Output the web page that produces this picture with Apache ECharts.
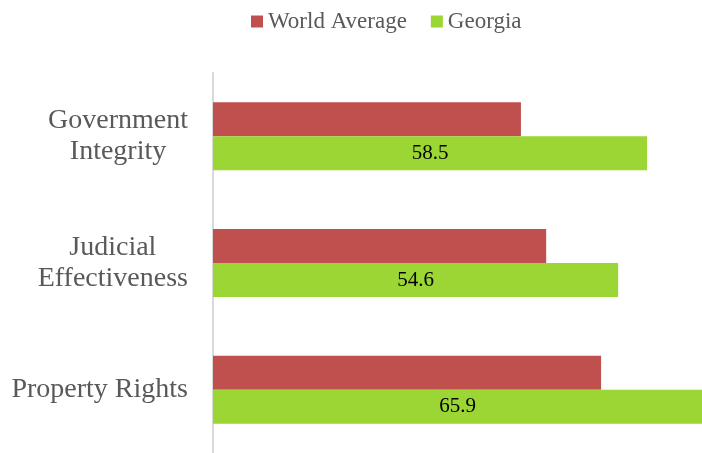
<!DOCTYPE html>
<html>
<head>
<meta charset="utf-8">
<script src="https://cdn.jsdelivr.net/npm/echarts@6/dist/echarts.min.js"></script>
<style>
  html, body { margin: 0; padding: 0; background: #fff; }
  #diogram { width: 702px; height: 453px; }
</style>
</head>
<body>
<div id="diogram"></div>
<script>
let categories = ['Government\nIntegrity', 'Judicial\nEffectiveness', 'Property Rights'];
let worldAverage = [41.5, 44.9, 52.3];
let georgia = [58.5, 54.6, 65.9];

let serif = '"Liberation Serif", "DejaVu Serif", serif';

let myDiogram = echarts.init(document.getElementById('diogram'));

let option = {
    animation: false,
    legend: {
        top: 5,
        left: 246,
        icon: 'rect',
        itemWidth: 12,
        itemHeight: 12,
        itemGap: 24,
        textStyle: {
            fontFamily: serif,
            fontSize: 23,
            color: '#595959'
        },
        data: ['World Average', 'Georgia']
    },
    grid: {
        left: 213,
        right: 0,
        top: 73,
        bottom: 0
    },
    xAxis: {
        type: 'value',
        show: false,
        min: 0,
        max: 65.9
    },
    yAxis: {
        type: 'category',
        inverse: true,
        data: categories,
        axisLine: {
            lineStyle: { color: '#d9d9d9', width: 2 }
        },
        axisTick: { show: false },
        axisLabel: {
            margin: 25,
            formatter: function (v) {
                return v.split('\n').map(function (s) { return '{c|' + s + '}'; }).join('\n');
            },
            rich: {
                c: {
                    align: 'center',
                    fontFamily: serif,
                    fontSize: 28,
                    lineHeight: 31,
                    color: '#595959'
                }
            }
        }
    },
    series: [
        {
            name: 'World Average',
            type: 'bar',
            color: '#C0504D',
            barWidth: 34,
            barGap: '0%',
            data: worldAverage
        },
        {
            name: 'Georgia',
            type: 'bar',
            color: '#9CD634',
            barWidth: 34,
            barGap: '0%',
            label: {
                show: true,
                position: 'inside',
                fontFamily: serif,
                fontSize: 21,
                color: '#000'
            },
            data: georgia
        }
    ]
};

myDiogram.setOption(option);
</script>
</body>
</html>
